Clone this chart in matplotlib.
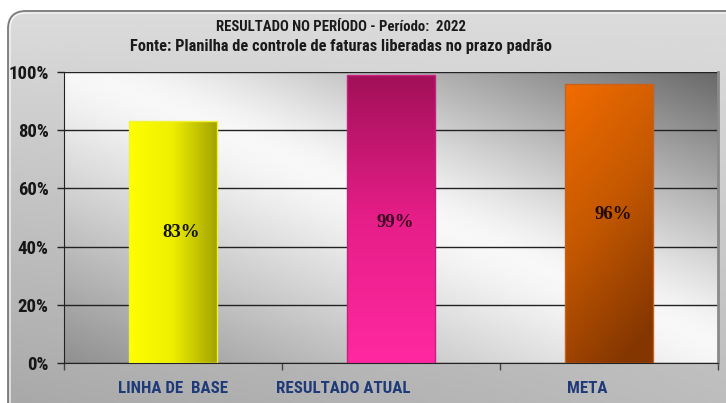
import numpy as np
import matplotlib
matplotlib.use("Agg")
import matplotlib.pyplot as plt
from matplotlib.patches import FancyBboxPatch
from matplotlib.colors import LinearSegmentedColormap
from matplotlib import font_manager

categories = ["LINHA DE  BASE", "RESULTADO ATUAL", "META"]
values = [83, 99, 96]
value_labels = ["83%", "99%", "96%"]
yticks = [0, 20, 40, 60, 80, 100]
ytick_labels = ["0%", "20%", "40%", "60%", "80%", "100%"]
title_lines = ["RESULTADO NO PERÍODO - Período:  2022",
               "Fonte: Planilha de controle de faturas liberadas no prazo padrão"]

names = {f.name for f in font_manager.fontManager.ttflist}
cond = "DejaVu Sans"
for cand in ["Liberation Sans Narrow", "Roboto Condensed", "Open Sans Condensed", "Roboto"]:
    if cand in names:
        cond = cand
        break

W, H = 726, 403
fig = plt.figure(figsize=(W / 100, H / 100), dpi=100)
fig.patch.set_facecolor("white")

# chart area background (rounded, gradient)
bg = fig.add_axes([0, 0, 1, 1], zorder=-5)
bg.set_xlim(0, W); bg.set_ylim(H, 0); bg.axis("off")
yy, xx = np.mgrid[0:1:200j, 0:1:200j]
g = 0.86 - 0.20 * yy + 0.08 * xx * yy
im = bg.imshow(g, cmap="gray", vmin=0, vmax=1, extent=[7, W, H, 10], aspect="auto", zorder=0)
box = FancyBboxPatch((8, 11), 740, 420, boxstyle="round,pad=0,rounding_size=18",
                     facecolor="none", edgecolor="#7a7a7a", lw=1.3, zorder=2)
bg.add_patch(box)
im.set_clip_path(box)
box2 = FancyBboxPatch((10, 13), 740, 420, boxstyle="round,pad=0,rounding_size=16",
                      facecolor="none", edgecolor="#f4f4f4", lw=1.0, zorder=2)
bg.add_patch(box2)

title_sizes = [10.6, 11.8]
for i, (t, fs) in enumerate(zip(title_lines, title_sizes)):
    fig.text(341 / W, 1 - (27 + 20 * i) / H, t, ha="center", va="center",
             fontsize=fs, fontweight="bold", family=cond, color="#1a1a1a")

ax = fig.add_axes([64 / W, 1 - 363 / H, 654 / W, 291 / H])
x = np.arange(len(categories))

# plot area metallic gradient (soft bright streak from top-left to bottom-right)
v, u = np.mgrid[0:1:300j, 0:1:400j]
px = 64 + 654 * u
py = 72 + 291 * v
streak = 75 + 0.43 * (px - 90)
d = py - streak
k = np.where(d < 0, 0.0023, 0.0015)
pg = 0.97 - k * np.sqrt(d ** 2 + 30 ** 2) + k * 30
pg = np.clip(pg, 0.3, 1.0)
ax.imshow(pg, cmap="gray", vmin=0, vmax=1, extent=[-0.5, 2.5, 0, 100], aspect="auto",
          origin="upper", zorder=0)

for yv in yticks:
    ax.axhline(yv, color="#222222", lw=1.0, zorder=1)

bars = ax.bar(x, values, width=0.4, zorder=3, facecolor="none", edgecolor="none")
cmaps = [
    LinearSegmentedColormap.from_list("y", ["#ffff00", "#eeee00", "#a4a400"]),
    LinearSegmentedColormap.from_list("p", ["#ff28a0", "#e61e88", "#a21058"]),
    LinearSegmentedColormap.from_list("o", ["#f26c00", "#c45800", "#843600"]),
]
edgecols = ["#f0f040", "#c82080", "#c86020"]
gy, gx = np.mgrid[0:1:100j, 0:1:100j]   # gy: 0 bottom -> 1 top (origin lower)
og = np.clip(0.8 * (1 - gy) + 0.3 * gx, 0, 1)
og = og / og.max()
grads = [gx, gy, og]
for b, cm, ec, arr in zip(bars, cmaps, edgecols, grads):
    bx, bw, bh = b.get_x(), b.get_width(), b.get_height()
    gim = ax.imshow(arr, cmap=cm, vmin=0, vmax=1, origin="lower",
                    extent=[bx, bx + bw, 0, bh], aspect="auto", zorder=3)
    gim.set_clip_path(b)
    ax.bar(bx + bw / 2, bh, width=bw, facecolor="none", edgecolor=ec, lw=1, zorder=4)
ax.set_ylim(0, 100)
ax.set_xlim(-0.5, 2.5)

label_y = [45, 48.2, 51]
label_dx = [0.037, 0.018, 0.018]
label_col = ["#111111", "#3c0024", "#1e0a00"]
for xi, ly, dx, lab, c in zip(x, label_y, label_dx, value_labels, label_col):
    ax.text(xi + dx, ly, lab, ha="center", va="center", fontsize=13.5, fontweight="bold",
            family="Liberation Serif", color=c, zorder=5)

ax.set_yticks(yticks)
ax.set_yticklabels(ytick_labels, fontsize=13.5, fontweight="bold", family=cond, color="#161616")
ax.tick_params(axis="y", length=5, width=1, color="#222222", pad=6)

ax.set_xticks([-0.5, 0.5, 1.5, 2.5])
ax.set_xticklabels([])
ax.tick_params(axis="x", which="major", length=5, width=1, color="#444444")
ax.set_xticks([0.0, 0.78, 1.9], minor=True)
ax.set_xticklabels(categories, minor=True, fontsize=12.2, fontweight="bold", family=cond, color="#1f3a78")
ax.tick_params(axis="x", which="minor", length=0, pad=13)

ax.spines["top"].set_visible(False)
ax.spines["left"].set_color("#222222")
ax.spines["bottom"].set_color("#222222")
ax.spines["right"].set_color("#8a8a8a")
ax.spines["right"].set_linewidth(2)

fig.savefig("out.png", dpi=100)
